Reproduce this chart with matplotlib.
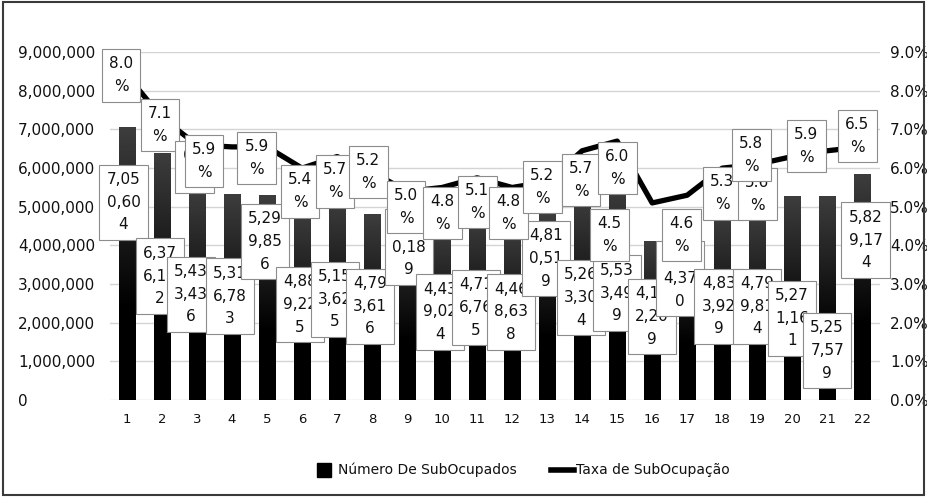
import textwrap
import numpy as np
import matplotlib.pyplot as plt
from matplotlib.lines import Line2D
from matplotlib.patches import Rectangle
from matplotlib.ticker import FuncFormatter

# dados
categorias = list(range(1, 23))
subocupados = [7050604, 6376112, 5433436, 5316783, 5299856, 4889225, 5153625,
               4793616, 4650189, 4439024, 4716765, 4468638, 4810519, 5263304,
               5533499, 4112209, 4294370, 4833929, 4799814, 5271161, 5257579,
               5829174]
taxa_linha = [8.4, 7.3, 6.6, 6.55, 6.55, 6.0, 6.3, 5.9, 5.4, 5.5, 5.75, 5.5,
              5.65, 6.45, 6.7, 5.1, 5.3, 6.0, 6.1, 6.3, 6.45, 6.55]
# valores escritos nos rotulos da taxa
rotulos_taxa = [8.0, 7.1, 6.1, 5.9, 5.9, 5.4, 5.7, 5.2, 5.0, 4.8, 5.1, 4.8,
                5.2, 5.7, 6.0, 4.5, 4.6, 5.3, 5.6, 5.8, 5.9, 6.5]

# posicao dos rotulos: (deslocamento em categorias, altura no eixo)
pos_rot_barras = [(-0.1, 5.12), (-0.06, 3.21), (-0.17, 2.74), (-0.06, 2.69),
                  (-0.06, 4.11), (-0.06, 2.48), (-0.06, 2.61), (-0.06, 2.43),
                  (0.06, 3.96), (-0.06, 2.28), (-0.03, 2.40), (-0.03, 2.28),
                  (-0.03, 3.67), (-0.03, 2.66), (0.0, 2.77), (0.0, 2.17),
                  (-0.2, 3.15), (-0.1, 2.43), (0.0, 2.43), (0.0, 2.12),
                  (0.0, 1.29), (0.1, 4.14)]
pos_rot_taxa = [(-0.17, 8.40), (-0.06, 7.11), (-0.06, 6.03), (-0.8, 6.18),
                (-0.29, 6.26), (-0.06, 5.40), (-0.06, 5.66), (-0.11, 5.90),
                (-0.03, 4.99), (0.0, 4.84), (0.0, 5.12), (-0.11, 4.84),
                (-0.14, 5.51), (-0.03, 5.69), (0.0, 6.0), (-1.23, 4.27),
                (-0.17, 4.27), (0.0, 5.35), (0.0, 5.33), (-1.17, 6.34),
                (-0.6, 6.57), (-0.14, 6.83)]

txt = '#111111'
caixa = dict(boxstyle='square,pad=0.48', fc='white', ec='#8c8c8c', lw=0.8)

fig = plt.figure(figsize=(9.28, 4.97), dpi=100)
ax = fig.add_axes([0.118, 0.195, 0.830, 0.700])

bars = ax.bar(categorias, subocupados, width=0.48, color='black', zorder=2)
grad = np.clip(np.linspace(0.24, -0.12, 200), 0, None).reshape(-1, 1)
for b in bars:
    x0, w, h = b.get_x(), b.get_width(), b.get_height()
    ax.imshow(grad, extent=(x0, x0 + w, 0, h), aspect='auto', cmap='gray',
              vmin=0, vmax=1, zorder=2.1, interpolation='bilinear')

ax.set_xlim(0.5, 22.5)
ax.set_ylim(0, 9000000)
ax.set_yticks(np.arange(0, 9000001, 1000000))
ax.yaxis.set_major_formatter(FuncFormatter(lambda v, p: '{:,.0f}'.format(v)))
ax.set_xticks(categorias)
ax.grid(axis='y', color='#d4d4d4', lw=1)
ax.set_axisbelow(True)
for s in ax.spines.values():
    s.set_visible(False)
ax.tick_params(axis='y', length=0, pad=66, labelsize=11, labelcolor=txt)
ax.tick_params(axis='x', length=0, pad=9, labelsize=9.5, labelcolor=txt)
plt.setp(ax.get_yticklabels(), ha='left')

for i, v in enumerate(subocupados):
    dx, yl = pos_rot_barras[i]
    s = '\n'.join(textwrap.wrap('{:,}'.format(v), 4))
    ax.text(categorias[i] + dx, yl * 1e6, s, ha='center', va='center',
            fontsize=11, color=txt, linespacing=1.65, bbox=caixa, zorder=5)

ax2 = ax.twinx()
ax2.plot(categorias, taxa_linha, color='black', lw=3.8, zorder=3)
ax2.set_ylim(0, 9)
ax2.set_yticks(np.arange(0, 10, 1))
ax2.yaxis.set_major_formatter(FuncFormatter(lambda v, p: '{:.1f}%'.format(v)))
for s in ax2.spines.values():
    s.set_visible(False)
ax2.tick_params(axis='y', length=0, pad=7.5, labelsize=11, labelcolor=txt)

for i, t in enumerate(rotulos_taxa):
    dx, yl = pos_rot_taxa[i]
    ax2.text(categorias[i] + dx, yl, '{:.1f}\n%'.format(t), ha='center',
             va='center', fontsize=11, color=txt, linespacing=1.65,
             bbox=caixa, zorder=6)

handles = [Line2D([], [], marker='s', color='black', linestyle='none', markersize=10),
           Line2D([], [], color='black', lw=4)]
fig.legend(handles, ['Número De SubOcupados', 'Taxa de SubOcupação'],
           loc='center', bbox_to_anchor=(0.562, 0.054), ncol=2, frameon=False,
           fontsize=10, columnspacing=2.5, handlelength=1.6, handletextpad=0.2,
           labelcolor=txt)

fig.patches.append(Rectangle((0.003, 0.005), 0.993, 0.99, transform=fig.transFigure,
                             fill=False, ec='#3a3a3a', lw=1.5))

fig.savefig('out.png', dpi=100)
